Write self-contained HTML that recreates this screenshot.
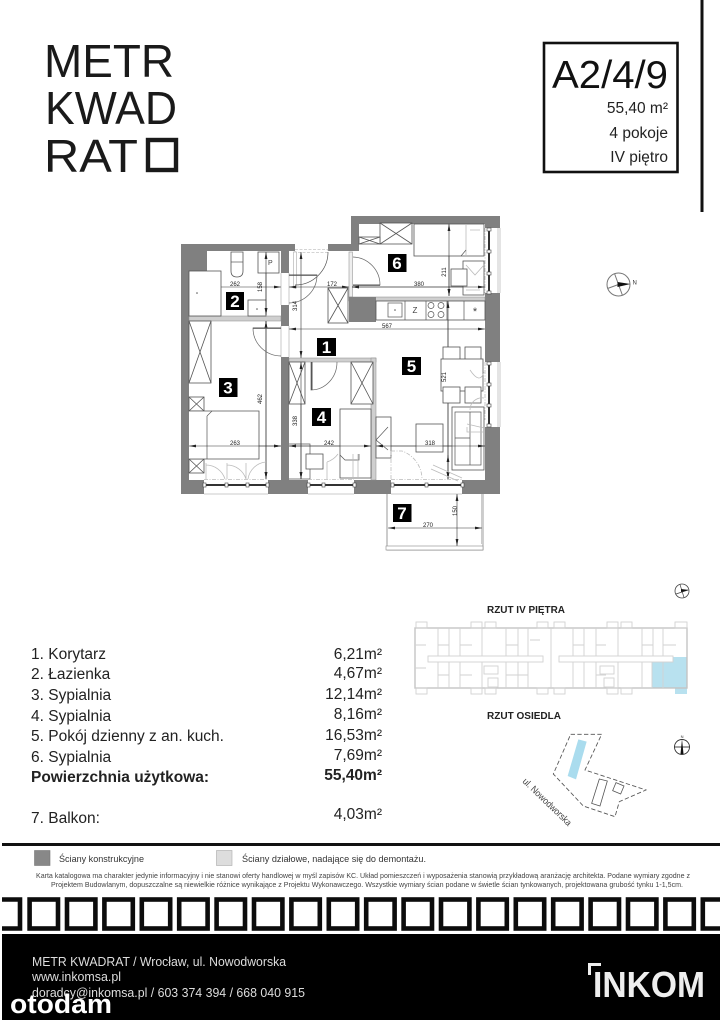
<!DOCTYPE html>
<html lang="pl"><head><meta charset="utf-8"><title>A2/4/9</title>
<style>
html,body{margin:0;padding:0;background:#fff}
svg{display:block}
text{font-family:"Liberation Sans",sans-serif}
.w{fill:#808080}
.p{fill:#cfcfcf;stroke:#888;stroke-width:.5}
.f{fill:#fff;stroke:#555;stroke-width:.8}
.n{fill:none;stroke:#555;stroke-width:.7}
.l{fill:none;stroke:#bbb;stroke-width:.8}
.dd{fill:none;stroke:#bbb;stroke-width:.8;stroke-dasharray:4 1.5 1 1.5}
.d{stroke:#333;stroke-width:.6;marker-start:url(#a);marker-end:url(#b)}
.dt{font-size:6px;fill:#222;text-anchor:middle}
.num{font-size:17px;font-weight:bold;fill:#fff;text-anchor:middle}
.li{font-size:15.5px;fill:#222}
.kp{fill:none;stroke:#d2d2d2;stroke-width:.9}
</style></head><body>
<svg xmlns="http://www.w3.org/2000/svg" width="723" height="1023" viewBox="0 0 723 1023">
<defs>
<marker id="a" markerUnits="userSpaceOnUse" markerWidth="8" markerHeight="4" refX="0" refY="2" orient="auto"><path d="M0 2L7 .6V3.4Z" fill="#222"/></marker>
<marker id="b" markerUnits="userSpaceOnUse" markerWidth="8" markerHeight="4" refX="7" refY="2" orient="auto"><path d="M7 2L0 .6V3.4Z" fill="#222"/></marker>
</defs>
<rect width="723" height="1023" fill="#fff"/>

<!-- logo -->
<g fill="#1a1a1a" font-size="46">
<text x="44" y="77" textLength="130" lengthAdjust="spacingAndGlyphs">METR</text>
<text x="45" y="124" textLength="132" lengthAdjust="spacingAndGlyphs">KWAD</text>
<text x="44" y="172" textLength="94" lengthAdjust="spacingAndGlyphs">RAT</text>
</g>
<rect x="148" y="140" width="28" height="30" fill="none" stroke="#1a1a1a" stroke-width="4.4"/>

<!-- title box -->
<rect x="544" y="43" width="133.500" height="129" fill="none" stroke="#111" stroke-width="2.6"/>
<rect x="700.500" y="0" width="3" height="212" fill="#111"/>
<text x="552" y="88" font-size="39" fill="#111" textLength="116" lengthAdjust="spacingAndGlyphs">A2/4/9</text>
<g font-size="15.500" fill="#222" text-anchor="end">
<text x="668" y="113">55,40 m²</text>
<text x="668" y="138">4 pokoje</text>
<text x="668" y="162">IV piętro</text>
</g>

<!-- floor plan walls -->
<g class="w">
<path d="M181 244H295V251H207V271H189V480H204V494H181Z"/>
<rect x="268" y="480" width="40" height="14"/>
<rect x="281" y="251" width="8" height="22"/>
<rect x="281" y="305" width="8" height="21"/>
<rect x="281" y="357" width="8" height="123"/>
<path d="M328 244H351V216H500V228H485V224H359V251H328Z"/>
<rect x="349" y="297" width="27" height="25"/>
<rect x="485" y="293" width="15" height="69"/>
<path d="M485 427H500V494H462V480H485Z"/>
<rect x="354" y="480" width="37" height="14"/>
</g>

<!-- openings -->
<g class="l">
<path d="M281 273V305M289 273V305M281 326V357M289 326V357"/>
<path d="M204 494H268M308 494H354M391 494H462"/>
<path d="M498 228V293M498 362V427M500 228V293M500 362V427"/>
</g>
<rect x="295" y="249.500" width="33" height="3" fill="#fff" stroke="#aaa" stroke-width=".6" stroke-dasharray="3 1.500"/>
<rect x="293.500" y="252" width="3" height="36" fill="#fff" stroke="#aaa" stroke-width=".6"/>
<rect x="349" y="252" width="3.500" height="45" fill="#eee" stroke="#999" stroke-width=".6"/>

<!-- partitions -->
<rect class="p" x="189" y="316" width="92" height="5"/>
<rect class="p" x="349" y="297" width="136" height="4"/>
<rect class="p" x="289" y="358" width="87" height="4"/>
<rect class="p" x="371" y="358" width="5" height="122"/>
<rect x="349" y="297" width="27" height="25" class="w"/>

<!-- dimensions -->
<g>
<line class="d" x1="189" y1="287" x2="281" y2="287"/>
<line class="d" x1="289" y1="287" x2="349" y2="287"/>
<line class="d" x1="352" y1="287" x2="485" y2="287"/>
<line class="d" x1="266" y1="252" x2="266" y2="315"/>
<line class="d" x1="266" y1="321" x2="266" y2="479"/>
<line class="d" x1="301" y1="252" x2="301" y2="358"/>
<line class="d" x1="301" y1="362" x2="301" y2="479"/>
<line class="d" x1="449" y1="224" x2="449" y2="296"/>
<line class="d" x1="448" y1="301" x2="448" y2="479"/>
<line class="d" x1="289" y1="329" x2="485" y2="329"/>
<line class="d" x1="189" y1="446" x2="281" y2="446"/>
<line class="d" x1="289" y1="446" x2="371" y2="446"/>
<line class="d" x1="376" y1="446" x2="485" y2="446"/>
</g>

<!-- bathroom -->
<rect class="f" x="189" y="271" width="32" height="45"/>
<circle cx="197" cy="293" r=".8" fill="#555"/>
<path class="f" d="M231 252H243V271Q243 277 237 277Q231 277 231 271Z"/>
<path class="n" d="M231 262H243"/>
<rect class="f" x="258" y="252" width="21" height="21"/>
<text x="268" y="265" font-size="7" fill="#444">P</text>
<rect class="f" x="248" y="300" width="18" height="16"/>
<circle cx="257" cy="309" r=".8" fill="#555"/>
<line class="d" x1="266" y1="252" x2="266" y2="315"/>

<!-- wardrobes -->
<g class="f">
<rect x="189" y="321" width="22" height="62"/><path d="M189 321L211 383M211 321L189 383"/>
<rect x="189" y="397" width="15" height="14"/><path d="M189 397L204 411M204 397L189 411"/>
<rect x="189" y="459" width="15" height="14"/><path d="M189 459L204 473M204 459L189 473"/>
<rect x="328" y="288" width="20" height="35"/><path d="M328 288L348 323M348 288L328 323"/>
<rect x="289" y="362" width="16" height="42"/><path d="M289 362L305 404M305 362L289 404"/>
<rect x="351" y="362" width="22" height="42"/><path d="M351 362L373 404M373 362L351 404"/>
<rect x="380" y="223" width="32" height="21"/><path d="M380 223L412 244M412 223L380 244"/>
<rect x="359" y="237" width="21" height="7"/><path d="M359 237L380 244M380 237L359 244"/>
</g>

<!-- room 3 bed -->
<path class="f" d="M189 411H259V459H189"/>
<path class="n" d="M207 416V459M207 416L212 411"/>
<line class="d" x1="189" y1="446" x2="281" y2="446"/>
<line class="d" x1="266" y1="321" x2="266" y2="479"/>

<!-- room 4 -->
<rect class="f" x="340" y="409" width="31" height="69"/>
<path class="n" d="M340 455L345 460H359V454"/>
<path class="l" d="M353 454V478M358 454V478"/>
<path class="n" d="M289 444H310V479H289"/>
<rect class="f" x="306" y="454" width="17" height="15"/>
<line class="d" x1="289" y1="446" x2="371" y2="446"/>
<line class="d" x1="301" y1="362" x2="301" y2="479"/>

<!-- doors -->
<g class="n">
<path d="M328 252A33 33 0 0 1 295 285"/>
<path d="M289 275H317A28 28 0 0 1 289 303" stroke="#666"/>
<path d="M281 328H253A28 28 0 0 0 281 356" stroke="#666"/>
<path d="M311 362V390A26 28 0 0 0 337 362" stroke="#666"/>
<path d="M353 285H380A28 28 0 0 0 353 257" stroke="#666"/>
</g>
<rect x="311" y="362" width="1.500" height="28" fill="#555"/>
<rect x="253" y="327.500" width="28" height="1.300" fill="#555"/>
<rect x="289" y="274.500" width="28" height="1.300" fill="#555"/>
<rect x="353" y="284.500" width="27" height="1.300" fill="#555"/>

<!-- room 6 -->
<rect class="f" x="414" y="224" width="70" height="32"/>
<path class="l" d="M466 224V256M470 230H480"/>
<path class="n" d="M461 256L466 250"/>
<rect class="f" x="463" y="261" width="21" height="34"/>
<path class="l" d="M466 265L475 275L484 265M466 290H480"/>
<rect class="f" x="451" y="269" width="16" height="17"/>
<line class="d" x1="449" y1="224" x2="449" y2="296"/>
<line class="d" x1="352" y1="287" x2="485" y2="287"/>

<!-- kitchen -->
<rect class="f" x="376" y="301" width="109" height="19"/>
<path class="n" d="M405 301V320M426 301V320M447 301V320M464 301V320"/>
<rect class="n" x="388" y="303" width="14" height="14"/>
<circle cx="395" cy="310" r=".8" fill="#555"/>
<text x="415" y="313" font-size="8" fill="#444" text-anchor="middle">Z</text>
<g class="n"><circle cx="431" cy="305.500" r="3"/><circle cx="441" cy="305.500" r="3"/><circle cx="431" cy="314.500" r="3"/><circle cx="441" cy="314.500" r="3"/></g>
<text x="475" y="315" font-size="11" fill="#444" text-anchor="middle">*</text>
<line class="d" x1="448" y1="301" x2="448" y2="479"/>

<!-- living -->
<g class="f">
<rect x="443" y="347" width="17" height="15"/>
<rect x="465" y="347" width="16" height="15"/>
<rect x="441" y="359" width="42" height="32"/>
<rect x="443" y="387" width="17" height="16"/>
<rect x="465" y="387" width="16" height="16"/>
<rect x="452" y="407" width="32" height="63"/>
<rect x="416" y="424" width="27" height="28"/>
<rect x="376" y="417" width="15" height="41"/>
</g>
<rect class="n" x="455" y="412" width="26" height="53"/>
<path class="n" d="M455 438H470M470 412V465"/>
<path class="n" d="M376 440L388 427M376 440L388 450"/>
<line class="d" x1="376" y1="446" x2="485" y2="446"/>
<path class="l" d="M467 424L484 428M467 427V432H484M470 410A12 12 0 0 1 484 398"/>
<path class="l" d="M470 370Q480 385 484 372"/>
<line class="d" x1="448" y1="455" x2="448" y2="479"/>

<!-- windows -->
<g>
<rect x="204" y="484" width="64" height="2" fill="#333"/>
<rect x="308" y="484" width="46" height="2" fill="#333"/>
<rect x="391" y="484" width="71" height="2" fill="#333"/>
<rect x="488" y="228" width="2" height="65" fill="#333"/>
<rect x="488" y="362" width="2" height="65" fill="#333"/>
</g>
<g fill="#fff" stroke="#444" stroke-width=".6">
<rect x="203" y="483" width="3" height="4"/><rect x="225" y="483" width="3" height="4"/><rect x="246" y="483" width="3" height="4"/><rect x="266" y="483" width="3" height="4"/>
<rect x="307" y="483" width="3" height="4"/><rect x="322" y="483" width="3" height="4"/><rect x="353" y="483" width="3" height="4"/>
<rect x="391" y="483" width="3" height="4"/><rect x="425" y="483" width="3" height="4"/><rect x="461" y="483" width="3" height="4"/>
<rect x="487" y="228" width="4" height="3"/><rect x="487" y="250" width="4" height="3"/><rect x="487" y="272" width="4" height="3"/><rect x="487" y="291" width="4" height="3"/>
<rect x="487" y="362" width="4" height="3"/><rect x="487" y="383" width="4" height="3"/><rect x="487" y="404" width="4" height="3"/><rect x="487" y="424" width="4" height="3"/>
</g>
<g class="dd">
<path d="M204 479.500H268M308 479.500H354M391 479.500H462"/>
<path d="M485 228V293M485 362V420"/>
<path d="M391 451V479M391 451H402A30 30 0 0 1 422 479"/>
</g>
<g class="l">
<path d="M206 463V479M227 463V479M246 463V479M206 465A20 20 0 0 1 225 479M227 465A20 20 0 0 1 246 479M266 462A20 20 0 0 0 248 479"/>
<path d="M327 479V462M327 462A22 22 0 0 0 338 454"/>
<path d="M431 469L458 481M433 465L462 478"/>
</g>

<!-- balcony -->
<path d="M387 494V550H483V494" fill="none" stroke="#777" stroke-width=".7"/>
<rect x="386" y="494" width="2" height="50" fill="#ccc"/>
<rect x="481" y="494" width="2" height="50" fill="#ccc"/>
<rect x="386" y="546" width="97" height="4" fill="#fff" stroke="#888" stroke-width=".6"/>
<line class="d" x1="388" y1="528" x2="482" y2="528"/>
<line class="d" x1="457" y1="494" x2="457" y2="546"/>

<!-- dimension text -->
<text class="dt" x="235" y="286">262</text>
<text class="dt" x="262" y="287" transform="rotate(-90 262 287)">158</text>
<text class="dt" x="297" y="306" transform="rotate(-90 297 306)">314</text>
<text class="dt" x="332" y="286">172</text>
<text class="dt" x="419" y="286">380</text>
<text class="dt" x="446" y="272" transform="rotate(-90 446 272)">211</text>
<text class="dt" x="387" y="328">567</text>
<text class="dt" x="446" y="377" transform="rotate(-90 446 377)">521</text>
<text class="dt" x="262" y="399" transform="rotate(-90 262 399)">462</text>
<text class="dt" x="297" y="421" transform="rotate(-90 297 421)">338</text>
<text class="dt" x="235" y="445">263</text>
<text class="dt" x="329" y="445">242</text>
<text class="dt" x="430" y="445">318</text>
<text class="dt" x="428" y="527">270</text>
<text class="dt" x="457" y="511" transform="rotate(-90 457 511)">150</text>

<!-- room numbers -->
<g>
<rect x="317" y="338" width="19" height="18" fill="#000"/><text class="num" x="326.500" y="353">1</text>
<rect x="226" y="292" width="18" height="18" fill="#000"/><text class="num" x="235" y="307">2</text>
<rect x="219" y="378" width="18.500" height="19" fill="#000"/><text class="num" x="228" y="393.500">3</text>
<rect x="312" y="408" width="19" height="18" fill="#000"/><text class="num" x="321.500" y="423">4</text>
<rect x="402" y="357" width="19" height="18" fill="#000"/><text class="num" x="411.500" y="372">5</text>
<rect x="388" y="254" width="18.500" height="18" fill="#000"/><text class="num" x="397" y="269">6</text>
<rect x="393" y="504" width="18.500" height="18" fill="#000"/><text class="num" x="402" y="519">7</text>
</g>

<!-- compass -->
<g transform="translate(618.500 284.500)">
<circle r="11.500" fill="none" stroke="#777" stroke-width="1"/>
<path d="M-11 4L0 0M-4 -11L0 0L4 11" fill="none" stroke="#777" stroke-width="1"/>
<path d="M-1 -2.500L12 -.5L-1 2.500Z" fill="#111"/>
<text x="14" y="0" font-size="6" fill="#333">N</text>
</g>

<!-- area list -->
<g class="li">
<text x="31" y="659">1. Korytarz</text>
<text x="31" y="679">2. Łazienka</text>
<text x="31" y="700">3. Sypialnia</text>
<text x="31" y="721">4. Sypialnia</text>
<text x="31" y="741" textLength="193" lengthAdjust="spacingAndGlyphs">5. Pokój dzienny z an. kuch.</text>
<text x="31" y="762">6. Sypialnia</text>
<text x="31" y="782" font-weight="bold" textLength="178" lengthAdjust="spacingAndGlyphs">Powierzchnia użytkowa:</text>
<text x="31" y="823">7. Balkon:</text>
</g>
<g class="li" text-anchor="end">
<text x="382" y="659">6,21m²</text>
<text x="382" y="678">4,67m²</text>
<text x="382" y="699">12,14m²</text>
<text x="382" y="719">8,16m²</text>
<text x="382" y="740">16,53m²</text>
<text x="382" y="760">7,69m²</text>
<text x="382" y="780" font-weight="bold">55,40m²</text>
<text x="382" y="819">4,03m²</text>
</g>

<!-- key plan -->
<text x="487" y="613" font-size="10.500" font-weight="bold" fill="#222" textLength="78" lengthAdjust="spacingAndGlyphs">RZUT IV PIĘTRA</text>
<g transform="translate(682 591)">
<circle r="7" fill="none" stroke="#444" stroke-width=".8"/>
<path d="M-6 3L6 -1M-2 -6.500L2 6.500" stroke="#444" stroke-width=".7" fill="none"/>
<path d="M-1 -2L7 -1L-1 1Z" fill="#111"/>
</g>
<rect x="652" y="662" width="35" height="26" fill="#b8e1ef"/>
<rect x="673" y="657" width="14" height="5" fill="#b8e1ef"/>
<rect x="675" y="688" width="12" height="6" fill="#b8e1ef"/>
<rect x="415" y="628" width="272" height="60" fill="none" stroke="#c4c4c4" stroke-width="1.400"/>
<g class="kp">
<rect x="416" y="622" width="11" height="6"/><rect x="471" y="622" width="11" height="6"/><rect x="485" y="622" width="11" height="6"/><rect x="537" y="622" width="11" height="6"/><rect x="554" y="622" width="11" height="6"/><rect x="607" y="622" width="11" height="6"/><rect x="621" y="622" width="11" height="6"/><rect x="675" y="622" width="12" height="6"/>
<rect x="416" y="688" width="11" height="6"/><rect x="471" y="688" width="11" height="6"/><rect x="485" y="688" width="11" height="6"/><rect x="537" y="688" width="11" height="6"/><rect x="554" y="688" width="11" height="6"/><rect x="607" y="688" width="11" height="6"/><rect x="621" y="688" width="11" height="6"/>
<rect x="428" y="656" width="115" height="6"/><rect x="559" y="656" width="114" height="6"/>
<path d="M438 628V656M449 628V656M460 628V656M482 628V656M506 628V656M518 628V656M528 628V656M551 628V688M573 628V656M584 628V656M596 628V656M618 628V656M642 628V656M653 628V656M663 628V656"/>
<path d="M438 662V688M449 662V688M460 662V688M482 662V688M506 662V688M518 662V688M528 662V688M573 662V688M584 662V688M596 662V688M618 662V688M642 662V688M652 662V688M663 662V688"/>
<path d="M415 645H426M415 668H426M438 645H449M460 645H472M506 645H518M530 640H540M573 645H584M596 645H606M642 645H653M663 645H676M438 675H449M460 675H472M506 675H528M596 675H606"/>
<rect x="484" y="666" width="14" height="8"/><rect x="600" y="666" width="14" height="8"/><rect x="488" y="678" width="10" height="9"/><rect x="604" y="678" width="10" height="9"/>
</g>

<text x="487" y="719" font-size="10.500" font-weight="bold" fill="#222" textLength="74" lengthAdjust="spacingAndGlyphs">RZUT OSIEDLA</text>
<g transform="translate(500 700) scale(.3333)">
<path d="M212 103L305 103L255 210L438 270L358 305L345 350L250 318L160 222Z" fill="none" stroke="#555" stroke-width="2.600" stroke-dasharray="13 7"/>
<path d="M235 118L260 125L228 238L203 228Z" fill="#aadcee"/>
<path d="M298 237L322 243L300 318L275 310Z" fill="none" stroke="#555" stroke-width="2.400"/>
<path d="M348 248L372 258L362 282L338 272Z" fill="none" stroke="#555" stroke-width="2.400"/>
</g>
<text x="522" y="782" font-size="9.500" fill="#444" transform="rotate(44 522 782)" textLength="64" lengthAdjust="spacingAndGlyphs">ul. Nowodworska</text>
<g transform="translate(682 747)">
<circle r="7.500" fill="none" stroke="#333" stroke-width=".9"/>
<path d="M-8 0H8" stroke="#333" stroke-width=".9"/>
<path d="M0 -8L1.500 7H-1.500Z" fill="#111"/>
<text x="0" y="-9" font-size="4" text-anchor="middle" fill="#333">N</text>
</g>

<!-- footer -->
<rect x="2" y="843" width="718" height="3" fill="#111"/>
<rect x="34.500" y="850.500" width="15.500" height="15" fill="#888" stroke="#777" stroke-width=".6"/>
<rect x="216.500" y="850.500" width="15.500" height="15" fill="#ddd" stroke="#aaa" stroke-width=".6"/>
<text x="59" y="862" font-size="9.500" fill="#333" textLength="85" lengthAdjust="spacingAndGlyphs">Ściany konstrukcyjne</text>
<text x="242" y="862" font-size="9.500" fill="#333" textLength="184" lengthAdjust="spacingAndGlyphs">Ściany działowe, nadające się do demontażu.</text>
<text x="36" y="878" font-size="7.400" fill="#444" textLength="654" lengthAdjust="spacingAndGlyphs">Karta katalogowa ma charakter jedynie informacyjny i nie stanowi oferty handlowej w myśl zapisów KC. Układ pomieszczeń i wyposażenia stanowią przykładową aranżację architekta. Podane wymiary zgodne z</text>
<text x="51" y="887" font-size="7.400" fill="#444" textLength="632" lengthAdjust="spacingAndGlyphs">Projektem Budowlanym, dopuszczalne są niewielkie różnice wynikające z  Projektu Wykonawczego. Wszystkie wymiary ścian podane w świetle ścian  tynkowanych,  projektowana grubość tynku 1-1,5cm.</text>

<!-- squares -->
<g fill="none" stroke="#0c0c0c" stroke-width="4.600">
<path d="M2 899.500H20V928.500H2"/>
<rect x="29.600" y="899.500" width="28.400" height="29"/><rect x="67" y="899.500" width="28.400" height="29"/><rect x="104.400" y="899.500" width="28.400" height="29"/><rect x="141.800" y="899.500" width="28.400" height="29"/><rect x="179.200" y="899.500" width="28.400" height="29"/><rect x="216.600" y="899.500" width="28.400" height="29"/><rect x="254" y="899.500" width="28.400" height="29"/><rect x="291.400" y="899.500" width="28.400" height="29"/><rect x="328.800" y="899.500" width="28.400" height="29"/><rect x="366.200" y="899.500" width="28.400" height="29"/><rect x="403.600" y="899.500" width="28.400" height="29"/><rect x="441" y="899.500" width="28.400" height="29"/><rect x="478.400" y="899.500" width="28.400" height="29"/><rect x="515.800" y="899.500" width="28.400" height="29"/><rect x="553.200" y="899.500" width="28.400" height="29"/><rect x="590.600" y="899.500" width="28.400" height="29"/><rect x="628" y="899.500" width="28.400" height="29"/><rect x="665.400" y="899.500" width="28.400" height="29"/>
<path d="M720 899.500H702.800V928.500H720"/>
</g>

<!-- black panel -->
<rect x="2" y="934" width="718" height="86" fill="#000"/>
<g font-size="13" fill="#ddd">
<text x="32" y="966" textLength="254" lengthAdjust="spacingAndGlyphs">METR KWADRAT / Wrocław, ul. Nowodworska</text>
<text x="32" y="981" textLength="89" lengthAdjust="spacingAndGlyphs">www.inkomsa.pl</text>
<text x="32" y="997" textLength="273" lengthAdjust="spacingAndGlyphs">doradcy@inkomsa.pl / 603 374 394 / 668 040 915</text>
</g>
<text x="10" y="1013" font-size="27" font-weight="bold" fill="#fff" textLength="102" lengthAdjust="spacingAndGlyphs">otodam</text>
<path d="M588 975V963H601V966H591V975Z" fill="#eee"/>
<text x="593" y="997" font-size="36" font-weight="bold" fill="#eee" textLength="112" lengthAdjust="spacingAndGlyphs">INKOM</text>
</svg>
</body></html>
